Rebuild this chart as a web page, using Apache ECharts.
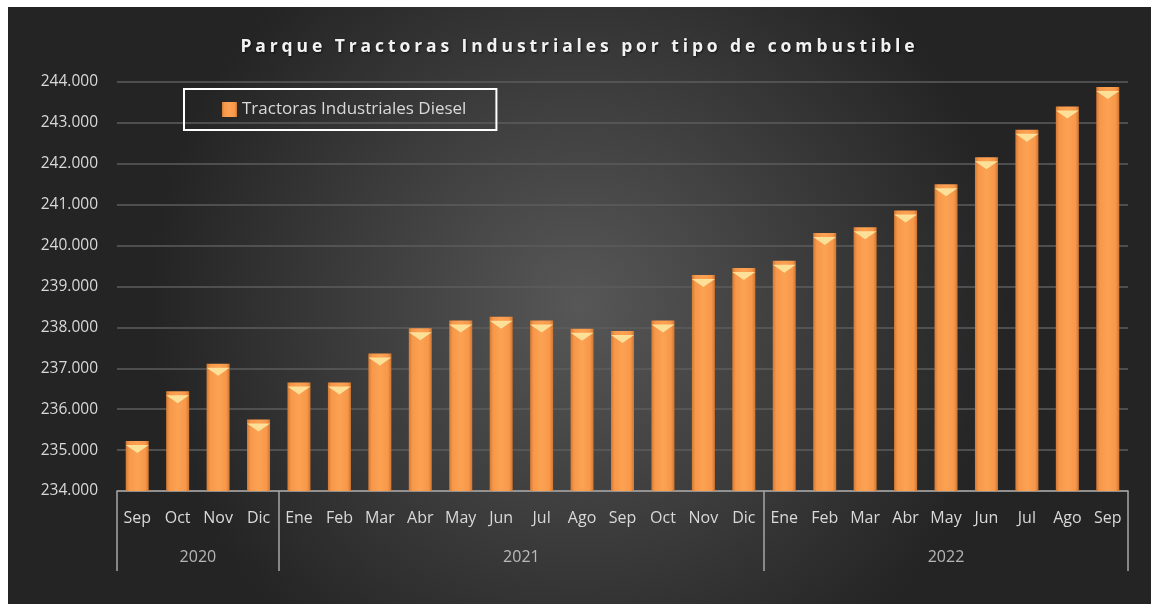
<!DOCTYPE html>
<html>
<head>
<meta charset="utf-8">
<script src="https://cdn.jsdelivr.net/npm/echarts@6/dist/echarts.min.js"></script>
<style>
  html, body { margin: 0; padding: 0; background: #ffffff; }
  #wrap { position: absolute; left: 8px; top: 7px; width: 1143px; height: 597px; }
  #chart { width: 100%; height: 100%; }
  #title {
    position: absolute; left: 0; right: 0; top: 26px; text-align: center;
    font-family: "Open Sans", sans-serif; font-weight: bold; font-size: 17.5px;
    letter-spacing: 3.9px; color: #f2f2f2; text-shadow: 1px 1px 2px rgba(0,0,0,0.6);
    pointer-events: none;
  }
</style>
</head>
<body>
<div id="wrap">
  <div id="chart"></div>
  <div id="title">Parque Tractoras Industriales por tipo de combustible</div>
</div>
<script>
// datos
const months = ['Sep', 'Oct', 'Nov', 'Dic',
  'Ene', 'Feb', 'Mar', 'Abr', 'May', 'Jun', 'Jul', 'Ago', 'Sep', 'Oct', 'Nov', 'Dic',
  'Ene', 'Feb', 'Mar', 'Abr', 'May', 'Jun', 'Jul', 'Ago', 'Sep'];
const years = ['2020', '2021', '2022'];
const monthsPerYear = [4, 12, 9];
const diesel = [235220, 236440, 237110, 235750,
  236650, 236650, 237360, 237980, 238170, 238260, 238170, 237970, 237910, 238170, 239280, 239450,
  239630, 240310, 240450, 240860, 241500, 242160, 242830, 243400, 243880];
const seriesName = 'Tractoras Industriales Diesel';

// inicio de cada año (para separadores) y centro (para etiqueta)
const yearStarts = [];
const yearLabels = [];
let acc = 0;
monthsPerYear.forEach((n, i) => {
  yearStarts.push(acc);
  yearLabels.push({ value: [acc + n / 2, 234000], name: years[i] });
  acc += n;
});

const fmt = v => String(v).replace(/\B(?=(\d{3})+(?!\d))/g, '.');
const txt = '#d9d9d9';

const barFill = new echarts.graphic.LinearGradient(0, 0, 1, 0, [
  { offset: 0, color: '#d27a33' },
  { offset: 0.15, color: '#f7974a' },
  { offset: 0.5, color: '#fca253' },
  { offset: 0.85, color: '#f7974a' },
  { offset: 1, color: '#cf7630' }
]);

const chart = echarts.init(document.getElementById('chart'));

const option = {
  backgroundColor: {
    type: 'radial', x: 0.5, y: 0.5, r: 0.72,
    colorStops: [
      { offset: 0, color: '#575757' },
      { offset: 1, color: '#242424' }
    ]
  },
  textStyle: { fontFamily: 'Open Sans' },
  legend: {
    data: [seriesName],
    left: 176,
    top: 82,
    orient: 'horizontal',
    borderColor: '#ffffff',
    borderWidth: 2,
    padding: [12, 30, 12, 38],
    itemWidth: 15,
    itemHeight: 15,
    icon: 'rect',
    textStyle: { color: txt, fontSize: 17, fontFamily: 'Open Sans' }
  },
  grid: { left: 109, right: 23, top: 75, bottom: 113 },
  xAxis: [
    {
      type: 'category',
      data: months,
      axisLine: { lineStyle: { color: '#a6a6a6', width: 1.5 } },
      axisTick: {
        show: true,
        length: 80,
        interval: (idx) => yearStarts.indexOf(idx) >= 0,
        lineStyle: { color: '#a6a6a6', width: 1.5 }
      },
      axisLabel: { interval: 0, color: txt, fontSize: 16, margin: 19 }
    },
    { type: 'value', min: 0, max: months.length, show: false }
  ],
  yAxis: {
    type: 'value',
    min: 234000,
    max: 244000,
    interval: 1000,
    axisLine: { show: false },
    axisTick: { show: false },
    splitLine: { lineStyle: { color: '#5c5c5c', width: 1.5 } },
    axisLabel: { color: txt, fontSize: 15.5, margin: 19, formatter: fmt }
  },
  series: [
    {
      name: seriesName,
      type: 'bar',
      data: diesel,
      barWidth: 23,
      itemStyle: {
        color: barFill,
        shadowColor: 'rgba(0,0,0,0.45)',
        shadowBlur: 4,
        shadowOffsetX: 2
      }
    },
    {
      // bisel superior de las barras
      name: 'cap',
      type: 'pictorialBar',
      data: diesel,
      barGap: '-100%',
      symbol: 'path://M0,0 L20,0 L10,7 Z',
      symbolSize: [23, 8],
      symbolPosition: 'end',
      symbolOffset: [0, '50%'],
      itemStyle: { color: '#fde7a0', opacity: 0.9 },
      silent: true,
      z: 3
    },
    {
      name: 'years',
      type: 'scatter',
      xAxisIndex: 1,
      data: yearLabels,
      symbolSize: 0,
      clip: false,
      silent: true,
      label: {
        show: true,
        position: 'inside',
        offset: [0, 66],
        formatter: p => p.name,
        color: txt,
        fontSize: 16
      }
    }
  ]
};

chart.setOption(option);
window.addEventListener('resize', () => chart.resize());
</script>
</body>
</html>
